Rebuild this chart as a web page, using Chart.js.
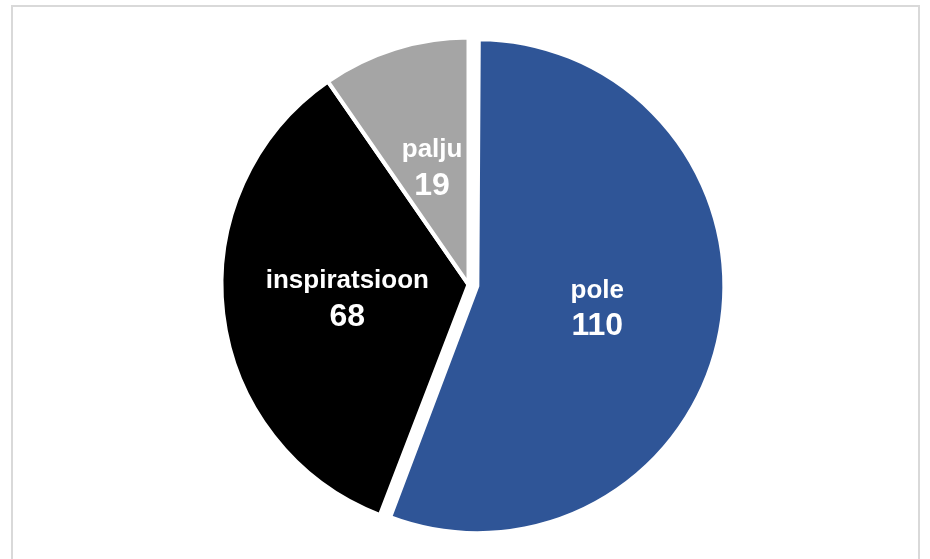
<!DOCTYPE html>
<html>
<head>
<meta charset="utf-8">
<script src="https://cdn.jsdelivr.net/npm/chart.js@4/dist/chart.umd.min.js"></script>
<style>
    body { margin: 0; background: #fff; }
    #frame { position: absolute; left: 11px; top: 5px; width: 905px; height: 620px; border: 2px solid #d9d9d9; }
    #myChart { position: absolute; left: 0; top: 0; }
</style>
</head>
<body>
<div id="frame"></div>
<canvas id="myChart" width="930" height="559"></canvas>
<script>
// données du graphique
var categories = ['pole', 'inspiratsioon', 'palju'];
var values = [110, 68, 19];
var colors = ['#2F5597', '#000000', '#A5A5A5'];
var explode = [9, 0, 0]; // décalage en pixels
var pieRadius = 247;

// Chart.js agrandit le rayon d'une part décalée (> 180°) : on compense
var keepRadius = {
    id: 'keepRadius',
    beforeDatasetsDraw: function (chart) {
        chart.getDatasetMeta(0).data.forEach(function (arc, i) {
            var fix = 1 - Math.sin(Math.min(Math.PI, arc.circumference || 0));
            arc.outerRadius = pieRadius - explode[i] * fix;
        });
    }
};

// étiquettes blanches au centre des parts
var sliceLabels = {
    id: 'sliceLabels',
    afterDatasetsDraw: function (chart) {
        var ctx = chart.ctx;
        var meta = chart.getDatasetMeta(0);
        ctx.save();
        ctx.fillStyle = '#ffffff';
        ctx.textAlign = 'center';
        ctx.textBaseline = 'middle';
        meta.data.forEach(function (arc, i) {
            var mid = (arc.startAngle + arc.endAngle) / 2;
            var d = 122 + explode[i];
            var x = arc.x + Math.cos(mid) * d;
            var y = arc.y + Math.sin(mid) * d;
            ctx.font = 'bold 26px "Liberation Sans", Arial, sans-serif';
            ctx.fillText(categories[i], x, y - 18);
            ctx.font = 'bold 32px "Liberation Sans", Arial, sans-serif';
            ctx.fillText(String(values[i]), x, y + 18);
        });
        ctx.restore();
    }
};

document.addEventListener('DOMContentLoaded', function () {
    var ctx = document.getElementById('myChart').getContext('2d');
    var myChart = new Chart(ctx, {
        type: 'pie',
        data: {
            labels: categories,
            datasets: [{
                data: values,
                backgroundColor: colors,
                borderColor: '#ffffff',
                borderWidth: 4,
                // Chart.js v4 divise l'offset par 4 au dessin
                offset: explode.map(function (v) { return v * 4; })
            }]
        },
        options: {
            responsive: false,
            animation: false,
            radius: pieRadius,
            layout: { padding: { left: 7, right: 0, top: 10, bottom: 0 } },
            plugins: {
                legend: { display: false },
                tooltip: { enabled: false }
            }
        },
        plugins: [keepRadius, sliceLabels]
    });
});
</script>
</body>
</html>
